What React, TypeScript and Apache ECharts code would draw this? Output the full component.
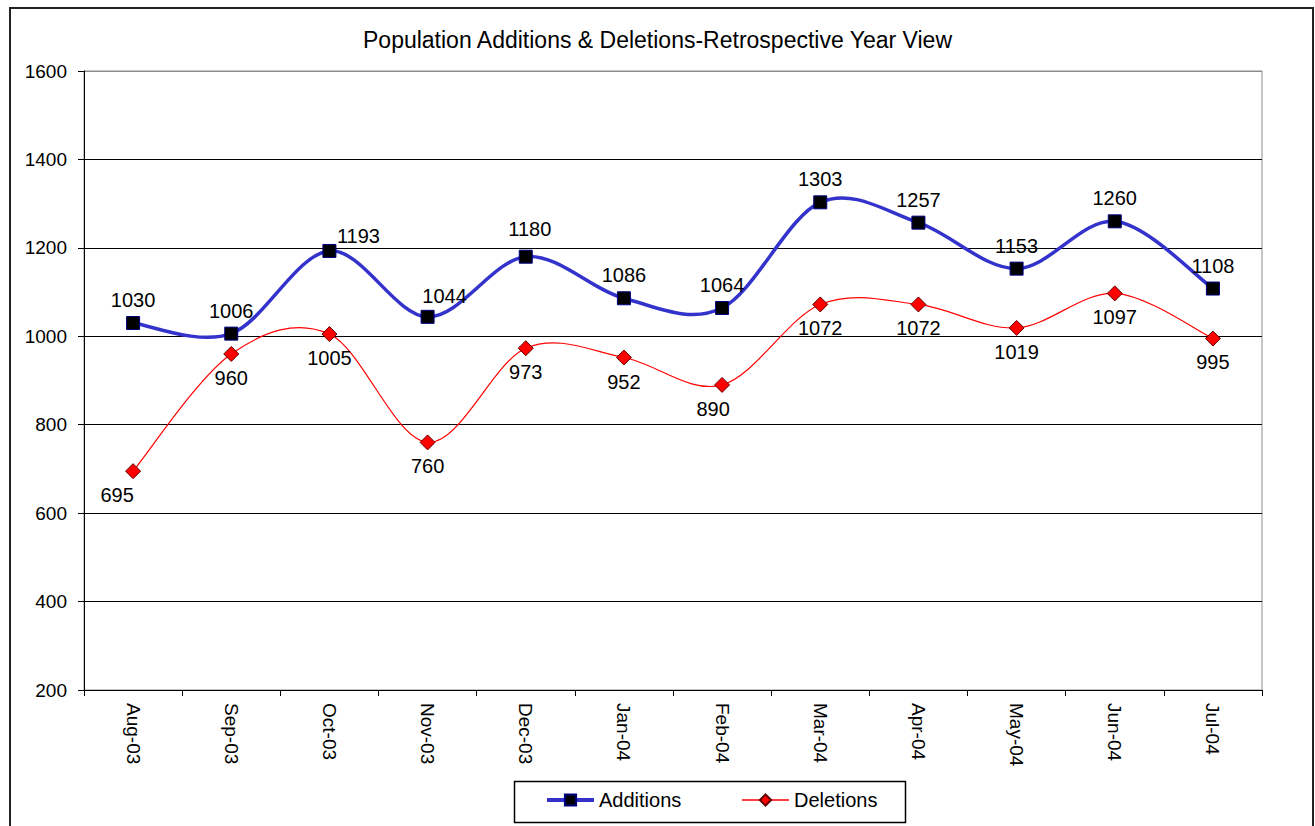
import React, { useEffect, useRef } from "react";
import * as echarts from "echarts";

const titleText = "Population Additions & Deletions-Retrospective Year View";
const months = ["Aug-03", "Sep-03", "Oct-03", "Nov-03", "Dec-03", "Jan-04", "Feb-04", "Mar-04", "Apr-04", "May-04", "Jun-04", "Jul-04"];
const additions = [1030, 1006, 1193, 1044, 1180, 1086, 1064, 1303, 1257, 1153, 1260, 1108];
const deletions = [695, 960, 1005, 760, 973, 952, 890, 1072, 1072, 1019, 1097, 995];
const yMin = 200;
const yMax = 1600;
const yStep = 200;

const FONT = "Liberation Sans, Arial, sans-serif";
const BLUE = "#3333CC";
const RED = "#FF0000";

const addOffsets: Record<number, number[]> = { 2: [29, 8], 3: [17, 2], 4: [4, -5] };
const delOffsets: Record<number, number[]> = { 0: [-16, 0], 6: [-9, 0] };

// Excel-like smoothed curve (Catmull-Rom style bezier) drawn through the axes' coordinates
function curveRenderer(values: number[], color: string, width: number) {
  return (params: any, api: any) => {
    const i = params.dataIndex;
    const n = values.length;
    if (i >= n - 1) return { type: "group", children: [] };
    const p = (k: number) => {
      const kk = Math.max(0, Math.min(n - 1, k));
      return api.coord([kk, values[kk]]);
    };
    const p0 = p(i - 1);
    const p1 = p(i);
    const p2 = p(i + 1);
    const p3 = p(i + 2);
    const t = 1 / 6;
    return {
      type: "bezierCurve",
      shape: {
        x1: p1[0],
        y1: p1[1],
        x2: p2[0],
        y2: p2[1],
        cpx1: p1[0] + (p2[0] - p0[0]) * t,
        cpy1: p1[1] + (p2[1] - p0[1]) * t,
        cpx2: p2[0] - (p3[0] - p1[0]) * t,
        cpy2: p2[1] - (p3[1] - p1[1]) * t,
      },
      style: { fill: "none", stroke: color, lineWidth: width },
      silent: true,
    };
  };
}

export default function App() {
  const ref = useRef<HTMLDivElement>(null);
  useEffect(() => {
    if (!ref.current) return;
    const chart = echarts.init(ref.current, undefined, { renderer: "svg" });
    const splitColors: string[] = [];
    for (let v = yMin; v <= yMax; v += yStep) splitColors.push(v === yMax ? "#8c8c8c" : "#000000");
    chart.setOption({
      animation: false,
      backgroundColor: "#ffffff",
      textStyle: { fontFamily: FONT },
      title: {
        text: titleText,
        left: "center",
        top: 23,
        textStyle: { fontFamily: FONT, fontSize: 23, fontWeight: "normal", color: "#000" },
      },
      graphic: [
        {
          type: "rect",
          shape: { x: 10, y: 8, width: 1303, height: 900 },
          style: { fill: "none", stroke: "#222", lineWidth: 2 },
          silent: true,
        },
        {
          type: "rect",
          shape: { x: 514.5, y: 781.5, width: 391, height: 41 },
          style: { fill: "none", stroke: "#000", lineWidth: 1.5 },
          silent: true,
        },
      ],
      legend: {
        left: 545,
        top: 790,
        padding: 0,
        itemWidth: 47,
        itemHeight: 14,
        itemGap: 60,
        textStyle: { fontFamily: FONT, fontSize: 20, color: "#000" },
        data: [
          { name: "Additions", lineStyle: { color: BLUE, width: 4, opacity: 1 } },
          { name: "Deletions", lineStyle: { color: RED, width: 1.5, opacity: 1 } },
        ],
      },
      grid: {
        left: 84,
        right: 53,
        top: 71,
        bottom: 136,
        show: true,
        borderColor: "#8c8c8c",
        borderWidth: 1,
      },
      xAxis: {
        type: "category",
        data: months,
        boundaryGap: true,
        axisLine: { lineStyle: { color: "#000", width: 1 } },
        axisTick: { show: true, length: 6, inside: false, lineStyle: { color: "#000" } },
        axisLabel: { rotate: -90, margin: 13, fontSize: 19, color: "#000", fontFamily: FONT },
      },
      yAxis: {
        type: "value",
        min: yMin,
        max: yMax,
        interval: yStep,
        axisLine: { show: true, lineStyle: { color: "#000", width: 1 } },
        axisTick: { show: true, length: 6, lineStyle: { color: "#000" } },
        axisLabel: {
          margin: 17,
          fontSize: 19,
          color: "#000",
          fontFamily: FONT,
          formatter: (v: number) => String(v),
        },
        splitLine: { show: true, lineStyle: { color: splitColors, width: 1 } },
      },
      series: [
        {
          name: "Deletions curve",
          type: "custom",
          data: deletions.map((v, i) => [i, v]),
          encode: { x: 0, y: 1 },
          renderItem: curveRenderer(deletions, RED, 1.2),
          z: 1,
          silent: true,
        },
        {
          name: "Additions curve",
          type: "custom",
          data: additions.map((v, i) => [i, v]),
          encode: { x: 0, y: 1 },
          renderItem: curveRenderer(additions, BLUE, 3.5),
          z: 2,
          silent: true,
        },
        {
          name: "Deletions",
          type: "line",
          symbol: "diamond",
          symbolSize: 15,
          showAllSymbol: true,
          lineStyle: { color: RED, width: 0, opacity: 0 },
          itemStyle: { color: RED, borderColor: "#600000", borderWidth: 1 },
          data: deletions.map((v, i) => ({
            value: v,
            label: delOffsets[i] ? { offset: delOffsets[i] } : undefined,
          })),
          label: {
            show: true,
            position: "bottom",
            distance: 6,
            fontSize: 20,
            color: "#000",
            fontFamily: FONT,
          },
          z: 3,
        },
        {
          name: "Additions",
          type: "line",
          symbol: "rect",
          symbolSize: 13,
          showAllSymbol: true,
          lineStyle: { color: BLUE, width: 0, opacity: 0 },
          itemStyle: { color: "#000000", borderColor: "#000080", borderWidth: 1 },
          data: additions.map((v, i) => ({
            value: v,
            label: addOffsets[i] ? { offset: addOffsets[i] } : undefined,
          })),
          label: {
            show: true,
            position: "top",
            distance: 6,
            fontSize: 20,
            color: "#000",
            fontFamily: FONT,
          },
          z: 4,
        },
      ],
    });
    return () => chart.dispose();
  }, []);
  return (
    <div
      ref={ref}
      style={{ position: "fixed", left: 0, top: 0, width: 1315, height: 826, background: "#fff" }}
    />
  );
}
